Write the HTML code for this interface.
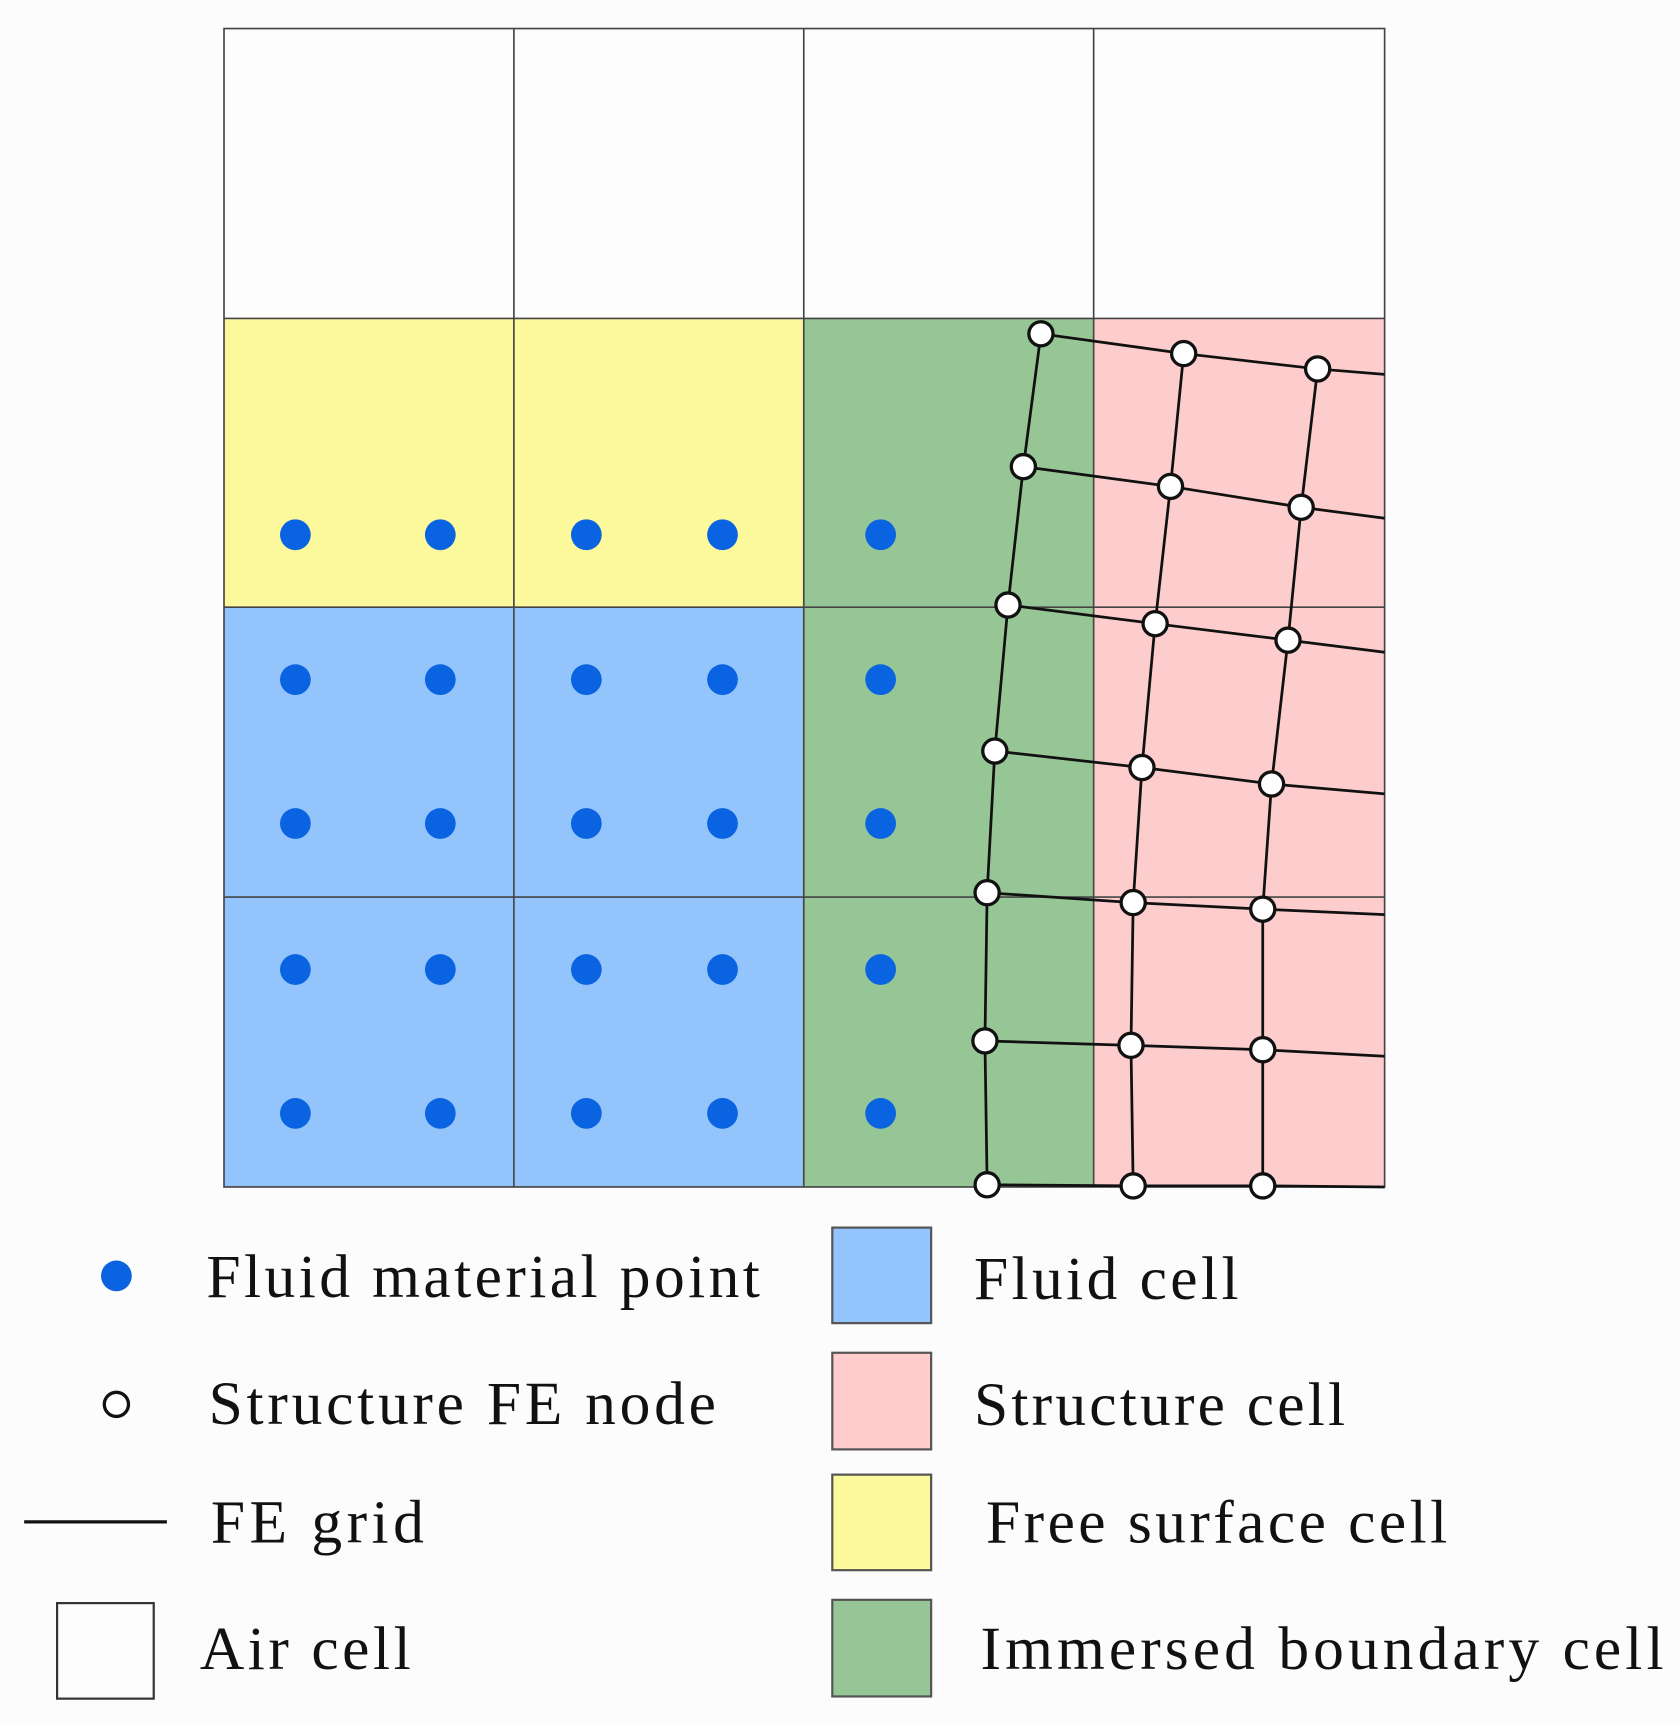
<!DOCTYPE html>
<html><head><meta charset="utf-8"><style>
html,body{margin:0;padding:0;background:#fcfcfc;}
svg{display:block;}
text{font-family:"Liberation Serif",serif;font-size:56px;fill:#111;}
</style></head><body>
<svg width="1680" height="1725" viewBox="0 0 1530 1571" preserveAspectRatio="none" xmlns="http://www.w3.org/2000/svg">
<rect x="0" y="0" width="1530" height="1571" fill="#fcfcfc"/>
<rect x="204" y="26" width="1057" height="264" fill="#fdfdfd"/>
<rect x="204" y="290" width="528" height="263" fill="#fcf89c"/>
<rect x="204" y="553" width="528" height="528" fill="#93c4fc"/>
<rect x="732" y="290" width="264" height="791" fill="#96c596"/>
<rect x="996" y="290" width="265" height="791" fill="#fdcdcd"/>
<g stroke="#444" stroke-width="1.5" fill="none">
<rect x="204" y="26" width="1057" height="1055"/>
<line x1="468" y1="26" x2="468" y2="1081"/>
<line x1="732" y1="26" x2="732" y2="1081"/>
<line x1="996" y1="26" x2="996" y2="1081"/>
<line x1="204" y1="290" x2="1261" y2="290"/>
<line x1="204" y1="553" x2="1261" y2="553"/>
<line x1="204" y1="817" x2="1261" y2="817"/>
</g>
<g fill="#0a63e0">
<circle cx="269" cy="487" r="14"/><circle cx="401" cy="487" r="14"/><circle cx="534" cy="487" r="14"/><circle cx="658" cy="487" r="14"/><circle cx="802" cy="487" r="14"/>
<circle cx="269" cy="619" r="14"/><circle cx="401" cy="619" r="14"/><circle cx="534" cy="619" r="14"/><circle cx="658" cy="619" r="14"/><circle cx="802" cy="619" r="14"/>
<circle cx="269" cy="750" r="14"/><circle cx="401" cy="750" r="14"/><circle cx="534" cy="750" r="14"/><circle cx="658" cy="750" r="14"/><circle cx="802" cy="750" r="14"/>
<circle cx="269" cy="883" r="14"/><circle cx="401" cy="883" r="14"/><circle cx="534" cy="883" r="14"/><circle cx="658" cy="883" r="14"/><circle cx="802" cy="883" r="14"/>
<circle cx="269" cy="1014" r="14"/><circle cx="401" cy="1014" r="14"/><circle cx="534" cy="1014" r="14"/><circle cx="658" cy="1014" r="14"/><circle cx="802" cy="1014" r="14"/>
</g>
<g stroke="#111" stroke-width="2.5" fill="none">
<polyline points="948,304 932,425 918,551 906,684 899,813 897,948 899,1079"/>
<polyline points="1078,322 1066,443 1052,568 1040,699 1032,822 1030,952 1032,1080"/>
<polyline points="1200,336 1185,462 1173,583 1158,714 1150,828 1150,956 1150,1080"/>
<polyline points="948,304 1078,322 1200,336 1261,341"/>
<polyline points="932,425 1066,443 1185,462 1261,472"/>
<polyline points="918,551 1052,568 1173,583 1261,594"/>
<polyline points="906,684 1040,699 1158,714 1261,723"/>
<polyline points="899,813 1032,822 1150,828 1261,833"/>
<polyline points="897,948 1030,952 1150,956 1261,962"/>
<polyline points="899,1079 1032,1080 1150,1080 1261,1081"/>
</g>
<g fill="#fff" stroke="#111" stroke-width="3">
<circle cx="948" cy="304" r="11"/><circle cx="932" cy="425" r="11"/><circle cx="918" cy="551" r="11"/><circle cx="906" cy="684" r="11"/><circle cx="899" cy="813" r="11"/><circle cx="897" cy="948" r="11"/><circle cx="899" cy="1079" r="11"/>
<circle cx="1078" cy="322" r="11"/><circle cx="1066" cy="443" r="11"/><circle cx="1052" cy="568" r="11"/><circle cx="1040" cy="699" r="11"/><circle cx="1032" cy="822" r="11"/><circle cx="1030" cy="952" r="11"/><circle cx="1032" cy="1080" r="11"/>
<circle cx="1200" cy="336" r="11"/><circle cx="1185" cy="462" r="11"/><circle cx="1173" cy="583" r="11"/><circle cx="1158" cy="714" r="11"/><circle cx="1150" cy="828" r="11"/><circle cx="1150" cy="956" r="11"/><circle cx="1150" cy="1080" r="11"/>
</g>
<circle cx="106" cy="1162" r="14" fill="#0a63e0"/>
<text x="188" y="1181" textLength="504" lengthAdjust="spacing">Fluid material point</text>
<circle cx="106" cy="1279" r="11" fill="#fff" stroke="#111" stroke-width="3"/>
<text x="190" y="1297" textLength="462" lengthAdjust="spacing">Structure FE node</text>
<line x1="22" y1="1386" x2="152" y2="1386" stroke="#111" stroke-width="3"/>
<text x="192" y="1405" textLength="194" lengthAdjust="spacing">FE grid</text>
<rect x="52" y="1460" width="88" height="87" fill="#fdfdfd" stroke="#333" stroke-width="2"/>
<text x="182" y="1520" textLength="192" lengthAdjust="spacing">Air cell</text>
<rect x="758" y="1118" width="90" height="87" fill="#93c4fc" stroke="#555" stroke-width="2"/>
<text x="887" y="1183" textLength="241" lengthAdjust="spacing">Fluid cell</text>
<rect x="758" y="1232" width="90" height="88" fill="#fdcdcd" stroke="#555" stroke-width="2"/>
<text x="887" y="1298" textLength="338" lengthAdjust="spacing">Structure cell</text>
<rect x="758" y="1343" width="90" height="87" fill="#fcf89c" stroke="#555" stroke-width="2"/>
<text x="898" y="1405" textLength="420" lengthAdjust="spacing">Free surface cell</text>
<rect x="758" y="1457" width="90" height="88" fill="#96c596" stroke="#555" stroke-width="2"/>
<text x="893" y="1520" textLength="622" lengthAdjust="spacing">Immersed boundary cell</text>
</svg>
</body></html>
